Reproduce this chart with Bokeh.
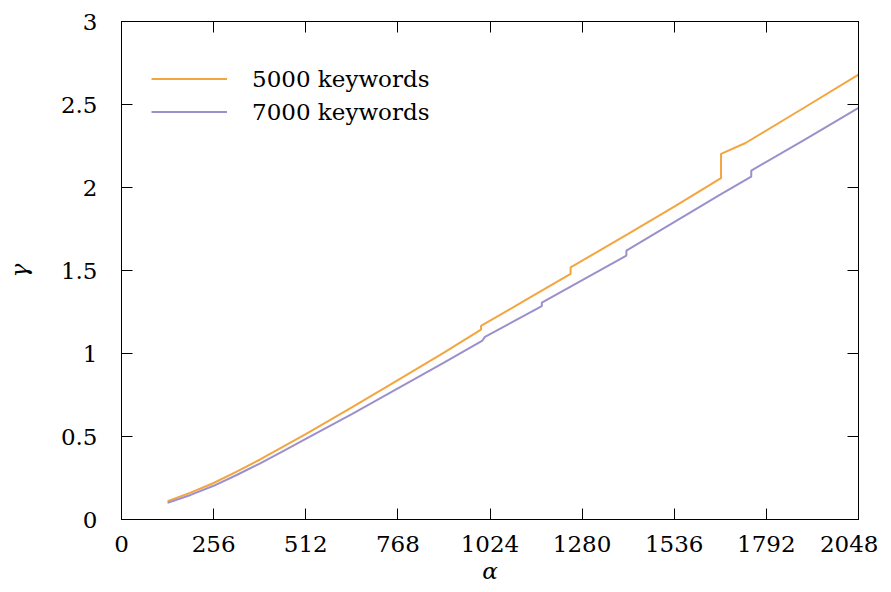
from bokeh.plotting import figure
from bokeh.models import Range1d, FixedTicker, LinearAxis, CustomJSTickFormatter, Legend, LegendItem
from bokeh.embed import file_html
from bokeh.resources import INLINE

# ---- data ----
alpha_5000 = [128, 192, 256, 320, 384, 448, 512, 640, 768, 896, 999, 999, 1120, 1248, 1248,
              1408, 1536, 1666, 1666, 1734, 1900, 2048]
gamma_5000 = [0.11, 0.162, 0.22, 0.288, 0.36, 0.437, 0.515, 0.675, 0.84, 1.005, 1.144,
              1.166, 1.318, 1.479, 1.519, 1.72, 1.885, 2.056, 2.203, 2.268, 2.485, 2.68]

alpha_7000 = [128, 192, 256, 320, 384, 448, 512, 640, 768, 896, 1003, 1010, 1168, 1168,
              1403, 1403, 1666, 1750, 1750, 1900, 2048]
gamma_7000 = [0.10, 0.148, 0.203, 0.268, 0.337, 0.41, 0.485, 0.635, 0.79, 0.945, 1.078,
              1.10, 1.285, 1.306, 1.59, 1.62, 1.96, 2.066, 2.102, 2.29, 2.48]

x_ticks = [0, 256, 512, 768, 1024, 1280, 1536, 1792, 2048]
y_ticks = [0, 0.5, 1, 1.5, 2, 2.5, 3]
series_names = ["5000 keywords", "7000 keywords"]

FONT = "DejaVu Serif"
FS = "23px"
ORANGE = "#f3a540"
PURPLE = "#9c90cc"

p = figure(width=878, height=592, x_range=Range1d(0, 2048), y_range=Range1d(0, 3),
           output_backend="svg", toolbar_location=None,
           min_border_left=121, min_border_right=20, min_border_top=21, min_border_bottom=73)
p.grid.visible = False
p.outline_line_color = "black"
p.outline_line_width = 1
p.background_fill_color = "white"
p.border_fill_color = "white"

fmt = CustomJSTickFormatter(code="return tick.toString();")
blank = CustomJSTickFormatter(code="return '';")

def style(ax, ticks, formatter, standoff=10):
    ax.ticker = FixedTicker(ticks=ticks)
    ax.formatter = formatter
    ax.major_tick_in = 11
    ax.major_tick_out = 0
    ax.minor_tick_in = 0
    ax.minor_tick_out = 0
    ax.axis_line_color = "black"
    ax.major_tick_line_color = "black"
    ax.major_label_text_font = FONT
    ax.major_label_text_font_size = FS
    ax.major_label_text_color = "black"
    ax.major_label_standoff = standoff
    ax.axis_label_text_font = FONT
    ax.axis_label_text_font_size = FS
    ax.axis_label_text_font_style = "italic"
    ax.axis_label_text_color = "black"

style(p.xaxis[0], x_ticks, fmt, 16)
style(p.yaxis[0], y_ticks, fmt, 24)
p.xaxis[0].axis_label = "α"
p.yaxis[0].axis_label = "γ"
p.xaxis[0].axis_label_standoff = 3
p.yaxis[0].axis_label_standoff = 26

top = LinearAxis()
style(top, x_ticks, blank, 0)
p.add_layout(top, "above")
right = LinearAxis()
style(right, y_ticks, blank, 0)
p.add_layout(right, "right")

r1 = p.line(alpha_5000, gamma_5000, line_color=ORANGE, line_width=2)
r2 = p.line(alpha_7000, gamma_7000, line_color=PURPLE, line_width=2)

legend = Legend(items=[LegendItem(label=series_names[0], renderers=[r1]),
                       LegendItem(label=series_names[1], renderers=[r2])],
                location=(30, 391), padding=0, margin=0, spacing=0,
                glyph_width=76, glyph_height=33, label_height=33, label_standoff=25,
                label_text_font=FONT, label_text_font_size=FS, label_text_color="black",
                border_line_alpha=0, background_fill_alpha=0)
p.add_layout(legend, "center")

open("out.html", "w").write(file_html(p, INLINE))
